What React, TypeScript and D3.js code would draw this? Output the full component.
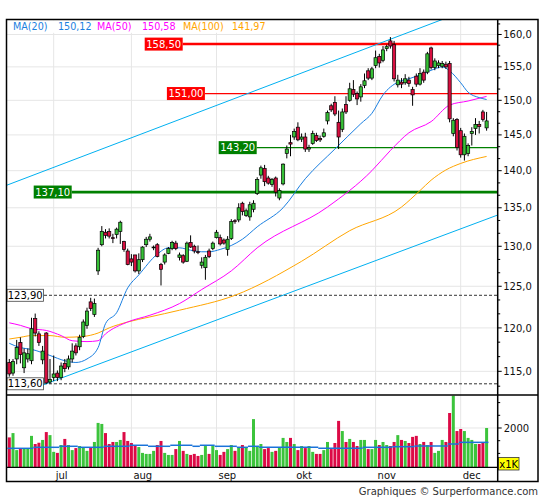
import React from 'react';
import * as d3 from 'd3';

// daily candles, mid june -> mid december
const opens = [
  116.0, 114.8, 116.4, 118.3, 115.4, 116.4, 116.2, 121.1, 119.3, 116.3,
  119.4, 113.8, 114.3, 114.8, 114.3, 115.9, 115.5, 116.4, 117.9, 117.8,
  119.0, 120.3, 123.1, 121.6, 126.9, 130.2, 131.8, 131.9, 131.1, 131.5,
  131.9, 130.6, 129.4, 128.4, 128.9, 126.9, 128.3, 130.2, 130.9, 129.8,
  130.2, 127.7, 128.0, 129.1, 129.7, 130.4, 128.6, 128.8, 128.1, 130.5,
  130.0, 129.3, 127.6, 127.3, 129.4, 129.7, 131.1, 131.1, 130.8, 129.6,
  131.0, 133.3, 133.4, 135.6, 134.0, 133.8, 134.8, 136.9, 139.4, 140.3,
  139.0, 138.1, 139.0, 136.3, 138.2, 142.4, 143.9, 144.7, 146.1, 144.4,
  144.7, 143.0, 143.8, 144.9, 144.5, 144.8, 147.0, 149.2, 149.7, 146.8,
  145.8, 149.4, 150.0, 151.6, 151.0, 150.5, 152.2, 154.4, 153.3, 155.2,
  156.6, 156.0, 157.8, 159.0, 158.4, 152.3, 152.7, 152.6, 153.0, 151.6,
  153.6, 152.4, 154.2, 154.2, 157.9, 154.9, 155.2, 155.1, 155.4, 155.5,
  145.2, 147.2, 145.6, 142.2, 142.4, 145.2, 145.9, 146.5, 148.3, 146.0,
];
const highs = [
  116.4, 116.4, 118.6, 118.9, 117.6, 117.6, 121.2, 121.7, 119.6, 117.9,
  119.5, 116.4, 116.8, 115.1, 116.0, 116.4, 116.8, 118.2, 118.2, 119.2,
  121.0, 122.4, 123.6, 123.5, 129.8, 132.6, 132.2, 132.3, 131.6, 132.4,
  133.3, 130.7, 129.7, 129.0, 128.9, 129.1, 130.0, 131.2, 131.6, 130.1,
  130.4, 127.9, 129.1, 129.9, 130.7, 130.7, 129.2, 129.0, 130.6, 131.4,
  130.2, 130.1, 128.6, 128.9, 129.7, 130.6, 132.1, 131.5, 131.0, 131.3,
  133.5, 133.5, 135.6, 135.8, 134.9, 135.8, 136.0, 139.1, 140.7, 140.8,
  139.3, 139.0, 139.2, 137.6, 141.0, 143.5, 145.0, 145.9, 146.8, 145.2,
  145.3, 143.6, 145.6, 145.3, 144.9, 145.9, 148.5, 149.5, 150.6, 148.5,
  148.8, 150.6, 152.6, 153.0, 151.3, 152.4, 154.0, 154.8, 155.0, 157.5,
  157.0, 158.2, 158.4, 159.6, 159.0, 153.8, 153.3, 153.9, 153.5, 152.0,
  154.0, 154.8, 154.6, 157.3, 158.1, 156.3, 156.0, 155.9, 155.8, 155.9,
  147.4, 147.4, 146.0, 145.2, 143.8, 146.1, 147.4, 147.0, 148.6, 148.3,
];
const lows = [
  114.4, 114.5, 115.8, 115.9, 114.8, 116.0, 115.8, 119.0, 117.9, 115.8,
  113.6, 113.6, 113.9, 113.9, 114.0, 114.9, 115.2, 116.0, 116.8, 117.4,
  118.8, 119.9, 122.0, 121.3, 126.4, 130.0, 131.0, 131.0, 130.4, 131.0,
  130.3, 129.3, 127.6, 127.5, 126.7, 126.5, 128.0, 129.9, 130.6, 129.5,
  128.6, 125.1, 127.7, 129.0, 129.5, 129.5, 128.2, 127.8, 128.0, 129.8,
  129.1, 129.0, 127.2, 125.8, 128.5, 129.5, 131.0, 130.1, 130.2, 128.8,
  130.8, 132.9, 133.1, 134.0, 133.8, 133.3, 134.4, 136.7, 138.9, 137.9,
  138.1, 137.8, 136.5, 136.0, 138.0, 141.7, 142.0, 144.3, 144.1, 144.0,
  142.6, 142.6, 143.6, 144.0, 144.0, 144.6, 146.5, 148.3, 147.7, 143.0,
  145.4, 148.0, 149.8, 150.5, 149.3, 149.8, 151.8, 153.0, 153.0, 154.8,
  154.9, 155.7, 157.4, 157.8, 152.8, 151.9, 151.8, 152.3, 152.0, 149.2,
  152.0, 152.2, 152.6, 153.9, 154.6, 154.5, 154.8, 154.8, 154.7, 146.8,
  144.8, 142.8, 141.8, 141.4, 142.0, 143.5, 145.0, 145.2, 146.9, 145.6,
];
const closes = [
  114.7, 116.1, 117.7, 116.9, 117.1, 117.0, 119.9, 119.4, 118.3, 117.3,
  113.7, 114.1, 114.7, 114.3, 115.6, 115.3, 116.4, 117.3, 117.1, 118.9,
  120.7, 122.0, 122.3, 122.9, 129.5, 131.9, 131.4, 131.3, 131.0, 132.2,
  133.1, 129.6, 127.7, 128.0, 126.9, 128.3, 129.9, 130.9, 131.2, 129.9,
  128.7, 127.1, 128.9, 129.7, 130.5, 129.7, 128.9, 128.0, 130.4, 129.9,
  129.4, 129.2, 128.0, 128.6, 128.7, 130.4, 131.8, 130.3, 130.4, 130.9,
  133.2, 133.2, 135.0, 134.5, 134.6, 135.4, 135.6, 138.8, 140.4, 138.5,
  138.3, 138.8, 137.1, 137.3, 140.9, 143.0, 143.7, 145.5, 144.3, 144.7,
  143.0, 143.2, 145.2, 144.2, 144.3, 145.3, 148.2, 148.6, 148.0, 144.7,
  148.3, 148.3, 151.7, 150.9, 150.2, 152.0, 152.9, 153.3, 154.7, 156.4,
  155.6, 157.6, 158.1, 158.2, 153.2, 153.0, 152.4, 153.2, 152.5, 150.8,
  152.4, 154.0, 153.0, 157.0, 154.9, 155.9, 155.6, 155.5, 155.0, 147.3,
  147.1, 143.2, 142.2, 144.8, 143.5, 145.5, 146.5, 146.2, 147.2, 147.0,
];
// volume in thousands
const volumes = [
  1630, 1800, 1130, 1190, 1190, 1190, 1690, 1370, 1420, 1530,
  1840, 1720, 1060, 1020, 1330, 1570, 1330, 1130, 1210, 1290,
  1240, 1100, 1240, 1450, 2200, 2160, 1800, 1370, 1450, 1450,
  1530, 1840, 1490, 1410, 1320, 1250, 1020, 980, 980, 1100,
  1330, 1490, 1020, 940, 940, 1170, 1490, 1100, 980, 940,
  980, 900, 940, 1290, 980, 1290, 1130, 940, 1060, 1170,
  1330, 1100, 1250, 1330, 1250, 1100, 2350, 1290, 1370, 1170,
  1210, 1060, 1100, 1250, 1610, 1450, 1610, 1370, 1130, 1290,
  1210, 1290, 1060, 980, 980, 1130, 1450, 1170, 1410, 2280,
  1880, 1450, 1570, 1450, 1290, 1530, 1530, 1170, 1170, 1530,
  1330, 1450, 1330, 1290, 1450, 1720, 1530, 1490, 1410, 1650,
  1690, 1370, 1450, 1330, 1450, 1020, 1100, 1530, 1450, 2590,
  3270, 1880, 1960, 1880, 1610, 1530, 1370, 1370, 1410, 2000,
];

// volume average, drawn as flat steps
const volAvgFrom = [0, 7, 14, 19, 26, 33, 38, 44, 50, 52, 56, 62, 65, 68, 84, 96, 104, 110, 119, 122];
const volAvgTo = [7, 14, 19, 26, 33, 38, 44, 50, 52, 56, 62, 65, 68, 84, 96, 104, 110, 119, 122, 130];
const volAvgVal = [1200, 1240, 1280, 1240, 1280, 1320, 1280, 1320, 1280, 1320, 1280, 1240, 1280, 1240, 1200, 1240, 1265, 1290, 1370, 1435];

const ma20Idx = [0, 3, 6, 11, 15, 18, 21, 24, 26, 29, 32, 35, 40, 43, 46, 49, 52, 54, 57, 60, 63, 67, 74, 80, 88, 95, 98, 101, 105, 108, 112, 115, 117, 119, 122, 124, 127, 129];
const ma20Val = [118.2, 117.7, 117.5, 116.8, 116.2, 116.0, 116.4, 117.7, 120.5, 121.8, 124.8, 126.4, 129.0, 129.8, 129.8, 129.5, 129.3, 129.3, 129.6, 130.1, 130.9, 132.5, 135.0, 138.9, 143.0, 146.6, 148.1, 150.8, 152.7, 153.2, 154.0, 154.7, 155.0, 154.4, 152.6, 151.2, 150.4, 150.12];
const ma50Idx = [0, 3, 6, 10, 14, 17, 21, 24, 26, 32, 38, 46, 52, 60, 67, 86, 98, 103, 108, 114, 119, 124, 129];
const ma50Val = [120.6, 120.3, 119.9, 119.7, 119.1, 118.5, 118.4, 118.5, 119.3, 120.7, 121.5, 122.9, 124.6, 126.9, 129.8, 135.1, 140.0, 142.8, 145.3, 146.9, 149.3, 149.9, 150.58];
const ma100Idx = [0, 3, 6, 11, 15, 20, 24, 27, 32, 38, 46, 61, 79, 92, 106, 111, 114, 118, 122, 129];
const ma100Val = [118.7, 118.9, 119.1, 119.1, 118.9, 119.0, 119.4, 120.0, 120.7, 121.3, 122.1, 123.9, 128.1, 132.0, 135.1, 137.3, 138.7, 140.1, 141.0, 141.97];

const legendNames = ['MA(20)', 'MA(50)', 'MA(100)'];
const legendValues = [150.12, 150.58, 141.97];

// channel lines: [bar, price] anchors
const channelUpper = [[0, 138.15], [105, 159.7]];
const channelLower = [[6, 113.0], [129, 133.5]];

const levelValues = [158.5, 151.0, 143.2, 137.1];
const levelFrom = [37, 43, 57, 7];
const rangeLevels = [123.9, 113.6];

const monthStarts = [12, 33, 56, 77, 99, 122];
const monthLabels = ['jul', 'aug', 'sep', 'okt', 'nov', 'dec'];

const volTicks = [1000, 1500, 2000, 2500, 3000];

const plotL = 6.5;
const plotR = 497.7;
const priceTop = 19.5;
const priceBot = 395;
const volBot = 467.3;
const frameR = 538;
const frameB = 481.5;

const GREEN = '#36c036';
const RED = '#d80f40';
const VGREEN = '#3cc43c';
const VRED = '#dc0a46';
const maColors = ['#1a7fe0', '#ff00ff', '#ffa500'];
const levelColors = ['#ff0000', '#ff0000', '#008000', '#008000'];
const levelWidths = [2.5, 1.3, 1.3, 2.8];

const comma = (v: number, d: number) => v.toFixed(d).replace('.', ',');

export default function App() {
  const n = closes.length;
  const x = d3.scaleLinear().domain([0, n - 1]).range([9.3, 486.6]);
  const yP = d3.scaleLog().domain([112.36, 162.37]).range([priceBot, priceTop]);
  const yV = d3.scaleLinear().domain([453, 3299]).range([volBot, priceBot]);

  const majors = d3.range(115, 161, 5);
  const minors: number[] = [];
  majors.forEach(m => {
    [m - 10 / 3, m - 5 / 3, m + 5 / 3].forEach(v => {
      if (v > 112.36 && v < 162.37 && !minors.some(q => Math.abs(q - v) < 0.01)) minors.push(v);
    });
  });

  const maLine = (idx: number[]) =>
    d3.line<number>()
      .x((_, k) => x(idx[k]))
      .y(d => yP(d))
      .curve(d3.curveMonotoneX);

  const extend = (a: number[], b: number[], x0: number, x1: number) => {
    const ax = x(a[0]), ay = yP(a[1]);
    const bx = x(b[0]), by = yP(b[1]);
    const s = (by - ay) / (bx - ax);
    return { x1: x0, y1: ay + (x0 - ax) * s, x2: x1, y2: ay + (x1 - ax) * s };
  };
  const up = extend(channelUpper[0], channelUpper[1], plotL, plotR);
  const lo = extend(channelLower[0], channelLower[1], x(channelLower[0][0]), plotR);

  const legendX = [13, 97, 183];
  const legendValX = [58, 142, 232];

  return (
    <div style={{ position: 'absolute', left: 0, top: 0 }}>
      <svg width={545} height={500} style={{ display: 'block', background: '#fff' }}
        fontFamily='"DejaVu Sans", Verdana, sans-serif' fontSize={10}>
        <defs>
          <clipPath id="pclip">
            <rect x={plotL} y={priceTop} width={plotR - plotL} height={priceBot - priceTop} />
          </clipPath>
        </defs>

        {/* grid */}
        {majors.map(v => (
          <line key={'gh' + v} x1={plotL} x2={plotR} y1={yP(v)} y2={yP(v)} stroke="#e6e6e6" />
        ))}
        <line x1={plotL} x2={plotR} y1={yV(2000)} y2={yV(2000)} stroke="#e6e6e6" />
        {monthStarts.map(i => (
          <line key={'gv' + i} x1={x(i)} x2={x(i)} y1={priceTop} y2={volBot} stroke="#e6e6e6" />
        ))}

        <g clipPath="url(#pclip)">
          {/* range lines */}
          {rangeLevels.map(v => (
            <line key={'rl' + v} x1={44} x2={plotR} y1={yP(v)} y2={yP(v)}
              stroke="#333" strokeDasharray="3,2" />
          ))}
          {/* levels */}
          {levelValues.map((v, k) => (
            <line key={'lv' + v} x1={x(levelFrom[k]) - 1.5 + 38} x2={plotR} y1={yP(v)} y2={yP(v)}
              stroke={levelColors[k]} strokeWidth={levelWidths[k]} />
          ))}
          {/* channel */}
          <line {...up} stroke="#00b0f0" strokeWidth={1} />
          <line {...lo} stroke="#00b0f0" strokeWidth={1} />
          {/* moving averages */}
          <path d={maLine(ma100Idx)(ma100Val) || ''} fill="none" stroke={maColors[2]} strokeWidth={1} />
          <path d={maLine(ma50Idx)(ma50Val) || ''} fill="none" stroke={maColors[1]} strokeWidth={1} />
          <path d={maLine(ma20Idx)(ma20Val) || ''} fill="none" stroke={maColors[0]} strokeWidth={1} />

          {/* candles */}
          {closes.map((c, i) => {
            const o = opens[i];
            const top = yP(Math.max(o, c));
            const h = Math.max(0.8, yP(Math.min(o, c)) - top);
            return (
              <g key={'c' + i}>
                <line x1={x(i)} x2={x(i)} y1={yP(highs[i])} y2={yP(lows[i])} stroke="#000" strokeWidth={1} />
                <rect x={x(i) - 1.6} y={top} width={3.2} height={h}
                  fill={c >= o ? GREEN : RED} stroke="#000" strokeWidth={0.7} />
              </g>
            );
          })}
        </g>

        {/* level labels */}
        {levelValues.map((v, k) => {
          const bx = x(levelFrom[k]) - 1.5;
          return (
            <g key={'lb' + v}>
              <rect x={bx} y={yP(v) - 6.5} width={38} height={13} fill={levelColors[k]} />
              <text x={bx + 19} y={yP(v) + 3.6} textAnchor="middle" fill="#fff">{comma(v, 2)}</text>
            </g>
          );
        })}
        {rangeLevels.map(v => (
          <g key={'rb' + v}>
            <rect x={7} y={yP(v) - 6} width={36.5} height={12} fill="#fff" stroke="#444" strokeWidth={0.8} />
            <text x={25.2} y={yP(v) + 3.6} textAnchor="middle" fill="#000">{comma(v, 2)}</text>
          </g>
        ))}

        {/* volume */}
        {volumes.map((v, i) => (
          <rect key={'v' + i} x={x(i) - 1.5} y={yV(v)} width={3} height={volBot - yV(v)}
            fill={closes[i] >= opens[i] ? VGREEN : VRED} />
        ))}
        {volAvgVal.map((v, k) => (
          <line key={'va' + k} x1={x(volAvgFrom[k]) - 1.85} x2={Math.min(plotR, x(volAvgTo[k]) - 1.85)}
            y1={yV(v)} y2={yV(v)} stroke="#1a73d9" strokeWidth={1.5} />
        ))}

        {/* legend */}
        <rect x={7.3} y={20.3} width={262} height={12.5} fill="#fff" />
        {legendNames.map((name, k) => (
          <g key={'lg' + k} fill={maColors[k]} fontSize={9.6}>
            <text x={legendX[k]} y={30.4}>{name}</text>
            <text x={legendValX[k]} y={30.4}>{comma(legendValues[k], 2)}</text>
          </g>
        ))}

        {/* right axis */}
        {majors.map(v => (
          <g key={'yt' + v}>
            <line x1={plotR} x2={plotR + 4} y1={yP(v)} y2={yP(v)} stroke="#000" />
            <text x={plotR + 5.5} y={yP(v) + 3.6} fill="#111">{comma(v, 1)}</text>
          </g>
        ))}
        {minors.map(v => (
          <line key={'ym' + v} x1={plotR} x2={plotR + 2.5} y1={yP(v)} y2={yP(v)} stroke="#000" />
        ))}
        {volTicks.map(v => (
          <line key={'vt' + v} x1={plotR} x2={plotR + (v === 2000 ? 4 : 2.5)} y1={yV(v)} y2={yV(v)} stroke="#000" />
        ))}
        <text x={plotR + 6} y={yV(2000) + 3.6} fill="#111">2000</text>
        <rect x={498.5} y={457.5} width={20.5} height={12.5} fill="#ffff00" stroke="#333" strokeWidth={0.8} />
        <text x={508.7} y={467.5} textAnchor="middle" fill="#000">x1K</text>

        {/* months */}
        {monthStarts.map((i, k) => (
          <text key={'m' + k} x={x(i) + 2} y={478.5} fill="#111">{monthLabels[k]}</text>
        ))}

        {/* frame */}
        <line x1={plotL} x2={plotR} y1={volBot} y2={volBot} stroke="#000" strokeWidth={1.2} />
        <line x1={plotL} x2={frameR} y1={priceBot} y2={priceBot} stroke="#000" strokeWidth={1.5} />
        <line x1={plotR} x2={plotR} y1={priceTop} y2={frameB} stroke="#000" strokeWidth={1.5} />
        <rect x={plotL} y={priceTop} width={frameR - plotL} height={frameB - priceTop}
          fill="none" stroke="#000" strokeWidth={1.5} />

        <text x={frameR} y={494.5} textAnchor="end" fill="#333">Graphiques © Surperformance.com</text>
      </svg>
    </div>
  );
}
